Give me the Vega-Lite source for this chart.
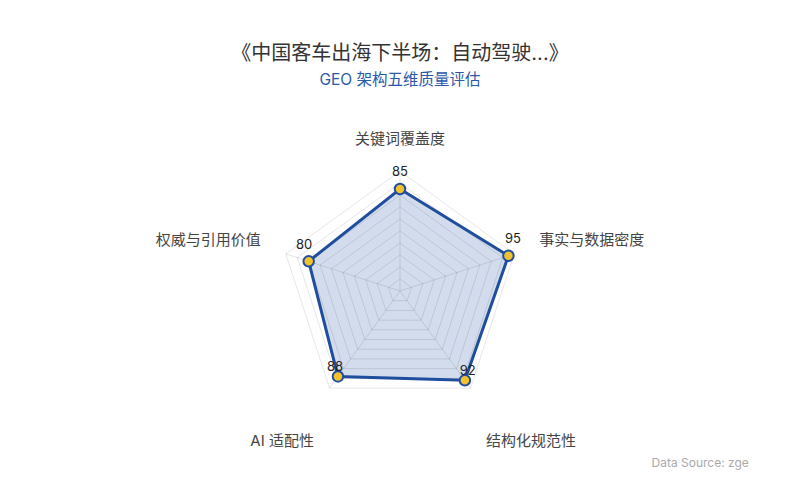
{
  "$schema": "https://vega.github.io/schema/vega-lite/v6.json",
  "width": 800,
  "height": 400,
  "autosize": {"type": "none"},
  "padding": {"left": 0, "right": 0, "top": 100, "bottom": 0},
  "background": "white",
  "config": {
    "view": {"stroke": null},
    "font": "Inter, Noto Sans CJK SC, sans-serif",
    "axisX": {"domain": false, "ticks": false, "labels": false, "grid": false, "titleX": 651, "titleY": -38, "titleAlign": "left", "titleBaseline": "middle", "titleFontSize": 12, "titleFontWeight": "normal", "titleColor": "#aaaaaa", "titlePadding": 0},
    "axisY": {"domain": false, "ticks": false, "labels": false, "grid": false}
  },
  "title": {
    "text": "《中国客车出海下半场：自动驾驶...》",
    "subtitle": "GEO 架构五维质量评估",
    "anchor": "middle",
    "fontSize": 20,
    "fontWeight": "normal",
    "color": "#333333",
    "subtitleFontSize": 15.5,
    "subtitleColor": "#2a5aa8",
    "subtitlePadding": 9,
    "offset": 12
  },
  "data": {
    "values": [
      {"dim": "关键词覆盖度", "i": 0, "score": 85, "levels": [10, 20, 30, 40, 50, 60, 70, 80, 90, 100]},
      {"dim": "事实与数据密度", "i": 1, "score": 95, "levels": [10, 20, 30, 40, 50, 60, 70, 80, 90, 100]},
      {"dim": "结构化规范性", "i": 2, "score": 92, "levels": [10, 20, 30, 40, 50, 60, 70, 80, 90, 100]},
      {"dim": "AI 适配性", "i": 3, "score": 88, "levels": [10, 20, 30, 40, 50, 60, 70, 80, 90, 100]},
      {"dim": "权威与引用价值", "i": 4, "score": 80, "levels": [10, 20, 30, 40, 50, 60, 70, 80, 90, 100]}
    ]
  },
  "transform": [
    {"calculate": "datum.i*2*PI/5", "as": "a"},
    {"calculate": "datum.score*sin(datum.a)", "as": "x"},
    {"calculate": "datum.score*cos(datum.a)", "as": "y"},
    {"calculate": "0", "as": "z"},
    {"calculate": "100*sin(datum.a)", "as": "ex"},
    {"calculate": "100*cos(datum.a)", "as": "ey"},
    {"calculate": "122*sin(datum.a)", "as": "lx"},
    {"calculate": "122*cos(datum.a)+((datum.i==2||datum.i==3)?-26:5)", "as": "ly"},
    {"calculate": "datum.x+4*sin(datum.a)", "as": "vx"},
    {"calculate": "datum.y+((datum.i==2||datum.i==3)?7.5:14)", "as": "vy"}
  ],
  "layer": [
    {
      "mark": {"type": "line", "interpolate": "linear-closed", "fill": "#1f4e9f", "fillOpacity": 0.2, "strokeOpacity": 0},
      "encoding": {
        "x": {"field": "x", "type": "quantitative", "scale": {"domain": [-333.333, 333.333], "nice": false, "zero": false}, "title": "Data Source: zge"},
        "y": {"field": "y", "type": "quantitative", "scale": {"domain": [-174.167, 159.167], "nice": false, "zero": false}, "title": null},
        "order": {"field": "i", "type": "quantitative"}
      }
    },
    {
      "transform": [
        {"flatten": ["levels"], "as": ["level"]},
        {"calculate": "datum.level*sin(datum.a)", "as": "gx"},
        {"calculate": "datum.level*cos(datum.a)", "as": "gy"}
      ],
      "mark": {"type": "line", "interpolate": "linear-closed", "stroke": "#000000", "strokeOpacity": 0.1, "strokeWidth": 1},
      "encoding": {
        "x": {"field": "gx", "type": "quantitative", "scale": {"domain": [-333.333, 333.333], "nice": false, "zero": false}, "title": "Data Source: zge"},
        "y": {"field": "gy", "type": "quantitative", "scale": {"domain": [-174.167, 159.167], "nice": false, "zero": false}, "title": null},
        "detail": {"field": "level", "type": "nominal"},
        "order": {"field": "i", "type": "quantitative"}
      }
    },
    {
      "mark": {"type": "rule", "stroke": "#000000", "strokeOpacity": 0.1, "strokeWidth": 1},
      "encoding": {
        "x": {"field": "z", "type": "quantitative", "scale": {"domain": [-333.333, 333.333], "nice": false, "zero": false}, "title": "Data Source: zge"},
        "y": {"field": "z", "type": "quantitative", "scale": {"domain": [-174.167, 159.167], "nice": false, "zero": false}, "title": null},
        "x2": {"field": "ex"},
        "y2": {"field": "ey"}
      }
    },
    {
      "mark": {"type": "line", "interpolate": "linear-closed", "stroke": "#1f4e9f", "strokeWidth": 3},
      "encoding": {
        "x": {"field": "x", "type": "quantitative", "scale": {"domain": [-333.333, 333.333], "nice": false, "zero": false}, "title": "Data Source: zge"},
        "y": {"field": "y", "type": "quantitative", "scale": {"domain": [-174.167, 159.167], "nice": false, "zero": false}, "title": null},
        "order": {"field": "i", "type": "quantitative"}
      }
    },
    {
      "mark": {"type": "point", "filled": true, "fill": "#f2c12e", "stroke": "#1f4e9f", "strokeWidth": 2, "size": 110, "opacity": 1},
      "encoding": {
        "x": {"field": "x", "type": "quantitative", "scale": {"domain": [-333.333, 333.333], "nice": false, "zero": false}, "title": "Data Source: zge"},
        "y": {"field": "y", "type": "quantitative", "scale": {"domain": [-174.167, 159.167], "nice": false, "zero": false}, "title": null}
      }
    },
    {
      "mark": {"type": "text", "fontSize": 13, "color": "#222222", "align": "center", "baseline": "middle"},
      "encoding": {
        "x": {"field": "vx", "type": "quantitative", "scale": {"domain": [-333.333, 333.333], "nice": false, "zero": false}, "title": "Data Source: zge"},
        "y": {"field": "vy", "type": "quantitative", "scale": {"domain": [-174.167, 159.167], "nice": false, "zero": false}, "title": null},
        "text": {"field": "score", "type": "quantitative"}
      }
    },
    {
      "transform": [{"filter": "datum.i==0"}],
      "mark": {"type": "text", "fontSize": 15, "color": "#444444", "align": "center", "baseline": "middle"},
      "encoding": {
        "x": {"field": "lx", "type": "quantitative", "scale": {"domain": [-333.333, 333.333], "nice": false, "zero": false}, "title": "Data Source: zge"},
        "y": {"field": "ly", "type": "quantitative", "scale": {"domain": [-174.167, 159.167], "nice": false, "zero": false}, "title": null},
        "text": {"field": "dim", "type": "nominal"}
      }
    },
    {
      "transform": [{"filter": "datum.i==1||datum.i==2"}],
      "mark": {"type": "text", "fontSize": 15, "color": "#444444", "align": "left", "baseline": "middle"},
      "encoding": {
        "x": {"field": "lx", "type": "quantitative", "scale": {"domain": [-333.333, 333.333], "nice": false, "zero": false}, "title": "Data Source: zge"},
        "y": {"field": "ly", "type": "quantitative", "scale": {"domain": [-174.167, 159.167], "nice": false, "zero": false}, "title": null},
        "text": {"field": "dim", "type": "nominal"}
      }
    },
    {
      "transform": [{"filter": "datum.i==3||datum.i==4"}],
      "mark": {"type": "text", "fontSize": 15, "color": "#444444", "align": "right", "baseline": "middle"},
      "encoding": {
        "x": {"field": "lx", "type": "quantitative", "scale": {"domain": [-333.333, 333.333], "nice": false, "zero": false}, "title": "Data Source: zge"},
        "y": {"field": "ly", "type": "quantitative", "scale": {"domain": [-174.167, 159.167], "nice": false, "zero": false}, "title": null},
        "text": {"field": "dim", "type": "nominal"}
      }
    }
  ]
}
